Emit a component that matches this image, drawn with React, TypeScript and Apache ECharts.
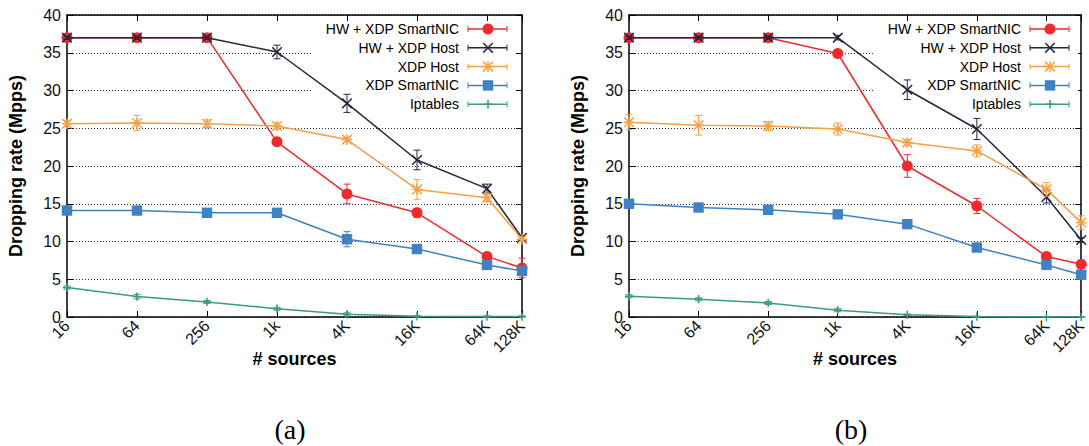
import React, { useEffect, useRef } from "react";
import * as echarts from "echarts";

// ---------- data ----------
const sourceLabels = ["16", "64", "256", "1k", "4K", "16K", "64K", "128K"];
const sourceCounts = [16, 64, 256, 1024, 4096, 16384, 65536, 131072];

const seriesNames = ["HW + XDP SmartNIC", "HW + XDP Host", "XDP Host", "XDP SmartNIC", "Iptables"];
const seriesColors = ["#ee2a2e", "#25253f", "#f5a042", "#3f82c4", "#3a9d78"];
const seriesMarkers = ["circle", "cross", "star", "square", "plus"];

// panel (a)
const hwSmartNicA = [37, 37, 37, 23.2, 16.3, 13.8, 8.0, 6.5];
const hwSmartNicAErr = [0.2, 0.2, 0.2, 0.3, 1.3, 0.6, 0.3, 1.3];
const hwHostA = [37, 37, 37, 35.1, 28.3, 20.8, 17.0, 10.5];
const hwHostAErr = [0.2, 0.2, 0.2, 0.9, 1.2, 1.3, 0.6, 0.3];
const xdpHostA = [25.6, 25.7, 25.6, 25.3, 23.5, 16.9, 15.8, 10.3];
const xdpHostAErr = [0.4, 1.0, 0.5, 0.4, 0.3, 1.3, 0.5, 0.3];
const xdpSmartNicA = [14.1, 14.1, 13.8, 13.8, 10.3, 9.0, 6.9, 6.1];
const xdpSmartNicAErr = [0.2, 0.2, 0.2, 0.2, 1.0, 0.3, 0.3, 0.2];
const iptablesA = [3.9, 2.7, 2.0, 1.1, 0.35, 0.1, 0.05, 0.05];
const iptablesAErr = [0.2, 0.3, 0.2, 0.2, 0.2, 0.1, 0.1, 0.1];

// panel (b)
const hwSmartNicB = [37, 37, 37, 34.9, 20.0, 14.7, 8.0, 7.0];
const hwSmartNicBErr = [0.2, 0.2, 0.2, 0.3, 1.5, 1.0, 0.3, 0.3];
const hwHostB = [37, 37, 37, 37, 30.1, 24.9, 15.9, 10.2];
const hwHostBErr = [0.2, 0.2, 0.2, 0.3, 1.3, 1.4, 0.8, 0.3];
const xdpHostB = [25.8, 25.4, 25.3, 24.9, 23.1, 22.0, 16.9, 12.5];
const xdpHostBErr = [1.0, 1.3, 0.6, 0.8, 0.4, 0.8, 0.9, 0.9];
const xdpSmartNicB = [15.0, 14.5, 14.2, 13.6, 12.3, 9.2, 6.9, 5.6];
const xdpSmartNicBErr = [0.2, 0.2, 0.2, 0.2, 0.2, 0.3, 0.3, 0.2];
const iptablesB = [2.75, 2.35, 1.85, 0.9, 0.3, 0.05, 0.02, 0.02];
const iptablesBErr = [0.2, 0.2, 0.2, 0.2, 0.1, 0.05, 0.02, 0.02];

const yMin = 0;
const yMax = 40;
const yInterval = 5;

const panelLabels = ["(a)", "(b)"];

// ---------- helpers ----------
const FONT = "'Liberation Sans', Arial, sans-serif";
const xVals = sourceCounts.map((c) => Math.log2(c));

function markerEls(kind: string, cx: number, cy: number, color: string): any[] {
  const lw = 1.5;
  const ln = (x1: number, y1: number, x2: number, y2: number) => ({
    type: "line",
    shape: { x1, y1, x2, y2 },
    style: { stroke: color, lineWidth: lw },
  });
  switch (kind) {
    case "circle":
      return [{ type: "circle", shape: { cx, cy, r: 5.5 }, style: { fill: color } }];
    case "square":
      return [{ type: "rect", shape: { x: cx - 5.2, y: cy - 5.2, width: 10.4, height: 10.4 }, style: { fill: color } }];
    case "cross": {
      const s = 4.8;
      return [ln(cx - s, cy - s, cx + s, cy + s), ln(cx - s, cy + s, cx + s, cy - s)];
    }
    case "star": {
      const s = 4.8;
      return [
        ln(cx - s, cy - s, cx + s, cy + s),
        ln(cx - s, cy + s, cx + s, cy - s),
        ln(cx - s - 0.5, cy, cx + s + 0.5, cy),
        ln(cx, cy - s - 0.5, cx, cy + s + 0.5),
      ];
    }
    case "plus": {
      const s = 4.2;
      return [ln(cx - s, cy, cx + s, cy), ln(cx, cy - s, cx, cy + s)];
    }
  }
  return [];
}

const panelValues = [
  [hwSmartNicA, hwHostA, xdpHostA, xdpSmartNicA, iptablesA],
  [hwSmartNicB, hwHostB, xdpHostB, xdpSmartNicB, iptablesB],
];
const panelErrors = [
  [hwSmartNicAErr, hwHostAErr, xdpHostAErr, xdpSmartNicAErr, iptablesAErr],
  [hwSmartNicBErr, hwHostBErr, xdpHostBErr, xdpSmartNicBErr, iptablesBErr],
];

// layout
const grids = [
  { left: 67, top: 15, width: 455, height: 302 },
  { left: 629, top: 15, width: 454, height: 302 },
];
const legendBoxes = [
  { x: 313, textRight: 459 },
  { x: 875, textRight: 1021 },
];
const panelLabelX = [290, 851];

function buildOption(): any {
  const axisLineStyle = { color: "#000", width: 1.5 };
  const xAxis: any[] = [];
  const yAxis: any[] = [];
  const series: any[] = [];
  const graphic: any[] = [];

  grids.forEach((g, p) => {
    xAxis.push({
      type: "value",
      gridIndex: p,
      min: 4,
      max: 17,
      position: "bottom",
      axisLine: { show: true, onZero: false, lineStyle: axisLineStyle },
      axisTick: { show: true, inside: true, length: 6, customValues: xVals, lineStyle: { color: "#000", width: 1 } },
      axisLabel: {
        show: true,
        customValues: xVals,
        formatter: (v: number) => {
          const i = xVals.findIndex((x) => Math.abs(x - v) < 1e-6);
          return i >= 0 ? sourceLabels[i] : "";
        },
        rotate: 45,
        fontSize: 16,
        fontFamily: FONT,
        color: "#111",
        margin: 6,
      },
      splitLine: { show: false },
      name: "# sources",
      nameLocation: "middle",
      nameGap: 33,
      nameMoveOverlap: false,
      nameTextStyle: { fontWeight: "bold", fontSize: 18, fontFamily: FONT, color: "#000" },
    });
    xAxis.push({
      type: "value",
      gridIndex: p,
      min: 4,
      max: 17,
      position: "top",
      axisLine: { show: true, onZero: false, lineStyle: axisLineStyle },
      axisTick: { show: true, inside: true, length: 6, customValues: xVals, lineStyle: { color: "#000", width: 1 } },
      axisLabel: { show: false },
      splitLine: { show: false },
    });
    yAxis.push({
      type: "value",
      gridIndex: p,
      min: yMin,
      max: yMax,
      interval: yInterval,
      position: "left",
      axisLine: { show: true, onZero: false, lineStyle: axisLineStyle },
      axisTick: { show: true, inside: true, length: 6, lineStyle: { color: "#000", width: 1 } },
      axisLabel: { fontSize: 16, fontFamily: FONT, color: "#111", margin: 6 },
      splitLine: { show: true, lineStyle: { type: [1, 2], color: "#333", width: 1 } },
      name: "Dropping rate (Mpps)",
      nameLocation: "middle",
      nameRotate: 90,
      nameGap: 42,
      nameMoveOverlap: false,
      nameTextStyle: { fontWeight: "bold", fontSize: 18, fontFamily: FONT, color: "#000" },
    });
    yAxis.push({
      type: "value",
      gridIndex: p,
      min: yMin,
      max: yMax,
      interval: yInterval,
      position: "right",
      axisLine: { show: true, onZero: false, lineStyle: axisLineStyle },
      axisTick: { show: true, inside: true, length: 6, lineStyle: { color: "#000", width: 1 } },
      axisLabel: { show: false },
      splitLine: { show: false },
    });

    seriesNames.forEach((name, i) => {
      const vals = panelValues[p][i];
      const errs = panelErrors[p][i];
      const color = seriesColors[i];
      const marker = seriesMarkers[i];
      series.push({
        type: "line",
        name,
        xAxisIndex: 2 * p,
        yAxisIndex: 2 * p,
        data: xVals.map((x, k) => [x, vals[k]]),
        symbol: "none",
        lineStyle: { color, width: 1.5 },
        z: 3 + 2 * i,
        clip: false,
        silent: true,
      });
      series.push({
        type: "custom",
        name,
        xAxisIndex: 2 * p,
        yAxisIndex: 2 * p,
        data: xVals.map((x, k) => [x, vals[k], errs[k]]),
        encode: { x: 0, y: 1 },
        z: 4 + 2 * i,
        clip: false,
        silent: true,
        renderItem: (_params: any, api: any) => {
          const x = api.value(0);
          const y = api.value(1);
          const e = api.value(2);
          const c = api.coord([x, y]);
          const t = api.coord([x, y + e]);
          const b = api.coord([x, Math.max(0, y - e)]);
          const cap = 3.5;
          const st = { stroke: color, lineWidth: 1 };
          return {
            type: "group",
            children: [
              { type: "line", shape: { x1: c[0], y1: t[1], x2: c[0], y2: b[1] }, style: st },
              { type: "line", shape: { x1: c[0] - cap, y1: t[1], x2: c[0] + cap, y2: t[1] }, style: st },
              { type: "line", shape: { x1: c[0] - cap, y1: b[1], x2: c[0] + cap, y2: b[1] }, style: st },
              ...markerEls(marker, c[0], c[1], color),
            ],
          };
        },
      });
    });

    // legend box
    const lb = legendBoxes[p];
    graphic.push({
      type: "rect",
      shape: { x: lb.x, y: 21, width: 203, height: 91 },
      style: { fill: "#fff" },
      z: 1,
      silent: true,
    });
    seriesNames.forEach((name, i) => {
      const y = 29 + i * 18.8;
      const color = seriesColors[i];
      const x1 = lb.textRight + 9;
      const x2 = lb.textRight + 48;
      const mx = lb.textRight + 29;
      const els: any[] = [
        {
          type: "text",
          x: lb.textRight,
          y,
          style: {
            text: name,
            fill: "#000",
            font: `14px ${FONT}`,
            align: "right",
            verticalAlign: "middle",
            textAlign: "right",
            textVerticalAlign: "middle",
          },
        },
        { type: "line", shape: { x1, y1: y, x2, y2: y }, style: { stroke: color, lineWidth: 1.5 } },
        { type: "line", shape: { x1, y1: y - 3, x2: x1, y2: y + 3 }, style: { stroke: color, lineWidth: 1 } },
        { type: "line", shape: { x1: x2, y1: y - 3, x2, y2: y + 3 }, style: { stroke: color, lineWidth: 1 } },
        ...markerEls(seriesMarkers[i], mx, y, color),
      ];
      els.forEach((el) => graphic.push({ ...el, z: 30, silent: true }));
    });

    graphic.push({
      type: "text",
      x: panelLabelX[p],
      y: 429,
      z: 30,
      style: {
        text: panelLabels[p],
        fill: "#000",
        font: "28px 'Liberation Serif', 'Times New Roman', serif",
        align: "center",
        verticalAlign: "middle",
        textAlign: "center",
        textVerticalAlign: "middle",
      },
    });
  });

  return {
    animation: false,
    backgroundColor: "#fff",
    grid: grids,
    xAxis,
    yAxis,
    series,
    graphic,
  };
}

export default function App() {
  const ref = useRef<HTMLDivElement>(null);
  useEffect(() => {
    if (!ref.current) return;
    const chart = echarts.init(ref.current, undefined, { renderer: "svg" });
    chart.setOption(buildOption());
    return () => chart.dispose();
  }, []);
  return (
    <div
      ref={ref}
      style={{ position: "absolute", left: 0, top: 0, width: 1089, height: 446, background: "#fff" }}
    />
  );
}
